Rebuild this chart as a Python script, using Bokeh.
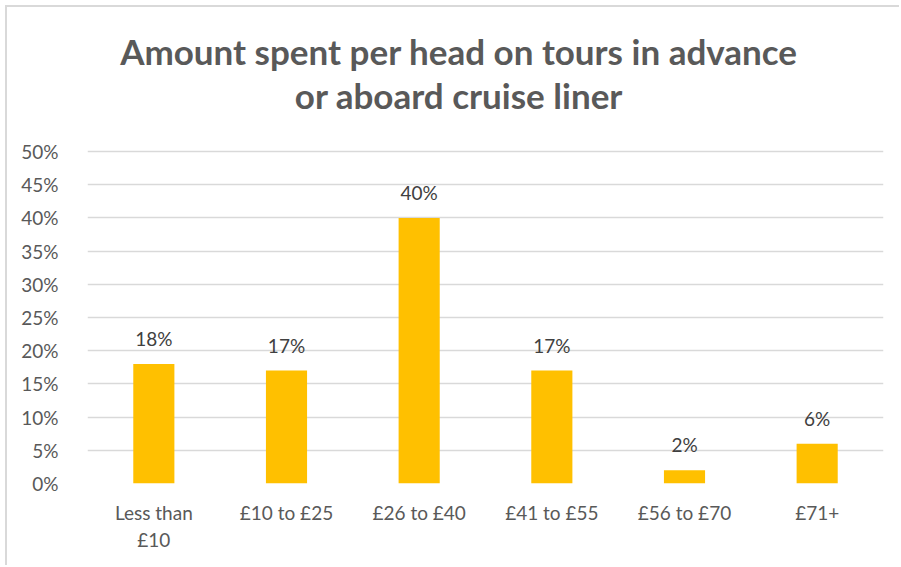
from bokeh.plotting import figure
from bokeh.models import ColumnDataSource, LabelSet, Label, Range1d, FactorRange, FixedTicker
from bokeh.core.properties import value
from bokeh.embed import file_html
from bokeh.resources import INLINE

categories = ["Less than\n£10", "£10 to £25", "£26 to £40", "£41 to £55", "£56 to £70", "£71+"]
shares = [18, 17, 40, 17, 2, 6]
value_labels = ["18%", "17%", "40%", "17%", "2%", "6%"]
y_ticks = [0, 5, 10, 15, 20, 25, 30, 35, 40, 45, 50]
y_tick_labels = {t: f"{t}%" for t in y_ticks}
title_lines = ["Amount spent per head on tours in advance", "or aboard cruise liner"]

FONT = "Lato"
GREY = "#595959"

# frame spans from the figure top down to the 0% line; 50% sits 144px below the top
FRAME_H = 560 - 84
PX_PER_UNIT = 332 / 50
Y_TOP = FRAME_H / PX_PER_UNIT

src = ColumnDataSource(dict(cat=categories, val=shares, lab=value_labels))

p = figure(x_range=FactorRange(*categories, range_padding=0), y_range=Range1d(0, Y_TOP),
           width=894, height=560, output_backend="svg", toolbar_location=None,
           margin=(7, 0, 0, 7),
           min_border_left=80, min_border_right=18, min_border_top=0, min_border_bottom=84)
p.styles = {"box-shadow": "-2px -2px 0 0 #d9d9d9"}
p.outline_line_color = None
p.background_fill_color = "white"
p.border_fill_color = "white"

p.vbar(x="cat", top="val", width=0.31, source=src, fill_color="#FFC000", line_color=None)

p.add_layout(LabelSet(x="cat", y="val", text="lab", source=src, y_offset=18,
                      text_align="center", text_baseline="alphabetic",
                      text_font=value(FONT), text_font_size="19px", text_color="#404040"))

# axes
p.yaxis.ticker = FixedTicker(ticks=y_ticks)
p.yaxis.major_label_overrides = y_tick_labels
p.yaxis.axis_line_color = None
p.yaxis.major_tick_line_color = None
p.yaxis.minor_tick_line_color = None
p.yaxis.major_label_text_font = FONT
p.yaxis.major_label_text_font_size = "19px"
p.yaxis.major_label_text_color = GREY
p.yaxis.major_label_standoff = 23

p.xaxis.axis_line_color = None
p.xaxis.major_tick_line_color = None
p.xaxis.minor_tick_line_color = None
p.xaxis.major_label_text_font = FONT
p.xaxis.major_label_text_font_size = "19px"
p.xaxis.major_label_text_color = GREY
p.xaxis.major_label_standoff = 11

p.xgrid.grid_line_color = None
p.ygrid.grid_line_color = "#d9d9d9"
p.ygrid.grid_line_width = 1.5

# title lines, anchored above the 50% line
for i, t in enumerate(title_lines):
    p.add_layout(Label(x=2.8, y=50, y_offset=101 - 44 * i, text=t,
                       text_align="center", text_baseline="alphabetic",
                       text_font=FONT, text_font_style="bold",
                       text_font_size="35px", text_color=GREY))

open("out.html", "w").write(file_html(p, INLINE))
